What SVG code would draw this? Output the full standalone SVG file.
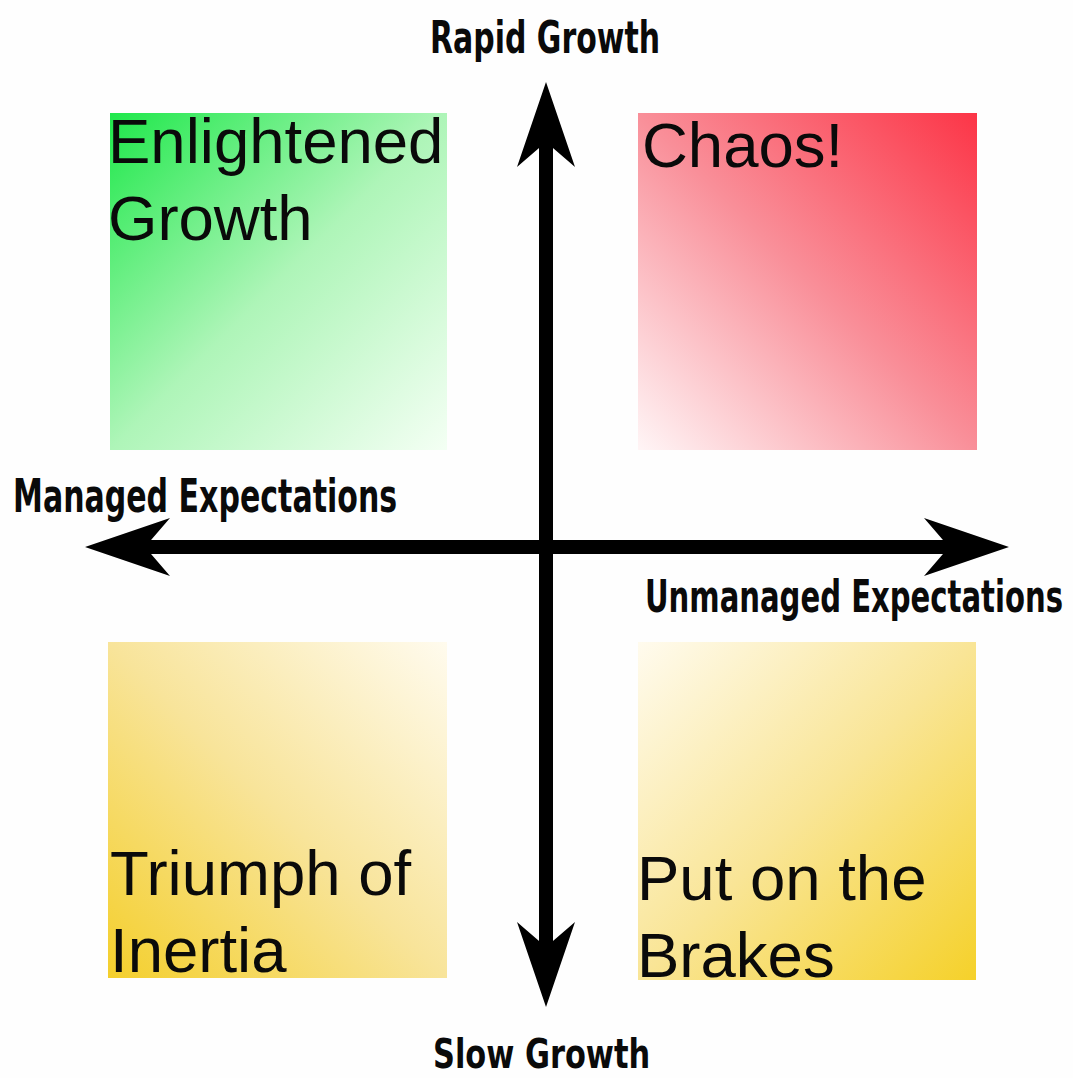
<svg xmlns="http://www.w3.org/2000/svg" width="1073" height="1078" viewBox="0 0 1073 1078">
  <style>
    .quad { font-family: "Liberation Sans", Arial, sans-serif; font-size: 63.5px; fill: #0a0a0a; }
    .axis { font-family: "DejaVu Sans Condensed", "DejaVu Sans", sans-serif; font-weight: bold; fill: #0a0a0a; }
    .shaft { stroke: #000; stroke-width: 14; fill: none; marker-start: url(#head); marker-end: url(#head); }
  </style>
  <defs>
    <linearGradient id="gGreen" x1="0" y1="0" x2="1" y2="1">
      <stop offset="0" stop-color="#1fe84b"/>
      <stop offset="0.5" stop-color="#aef5b8"/>
      <stop offset="1" stop-color="#f4fff4"/>
    </linearGradient>
    <linearGradient id="gRed" x1="1" y1="0" x2="0" y2="1">
      <stop offset="0" stop-color="#fc3547"/>
      <stop offset="0.5" stop-color="#f98f99"/>
      <stop offset="1" stop-color="#fff5f6"/>
    </linearGradient>
    <linearGradient id="gYellowBL" x1="0" y1="1" x2="1" y2="0">
      <stop offset="0" stop-color="#f4cf2c"/>
      <stop offset="0.5" stop-color="#f8e49a"/>
      <stop offset="1" stop-color="#fffbee"/>
    </linearGradient>
    <linearGradient id="gYellowBR" x1="1" y1="1" x2="0" y2="0">
      <stop offset="0" stop-color="#f5d12a"/>
      <stop offset="0.5" stop-color="#f9e596"/>
      <stop offset="1" stop-color="#fffbee"/>
    </linearGradient>
    <!-- notched arrowhead; reference point sits at the notch -->
    <marker id="head" markerUnits="userSpaceOnUse" markerWidth="200" markerHeight="200"
            refX="0" refY="0" orient="auto-start-reverse" overflow="visible">
      <path d="M60,0 L-25,-29 L0,0 L-25,29 Z" fill="#000"/>
    </marker>
  </defs>

  <rect width="1073" height="1078" fill="#fefefe"/>

  <g id="enlightened-growth">
    <rect x="110" y="113" width="337" height="337" fill="url(#gGreen)"/>
    <text class="quad" x="108" y="163">Enlightened</text>
    <text class="quad" x="108" y="240">Growth</text>
  </g>

  <g id="chaos">
    <rect x="638" y="113" width="339" height="337" fill="url(#gRed)"/>
    <text class="quad" x="642" y="167">Chaos!</text>
  </g>

  <g id="triumph-of-inertia">
    <rect x="108" y="642" width="339" height="336" fill="url(#gYellowBL)"/>
    <text class="quad" x="110" y="895">Triumph of</text>
    <text class="quad" x="110" y="972">Inertia</text>
  </g>

  <g id="put-on-the-brakes">
    <rect x="638" y="642" width="338" height="338" fill="url(#gYellowBR)"/>
    <text class="quad" x="637" y="900">Put on the</text>
    <text class="quad" x="637" y="977">Brakes</text>
  </g>

  <g id="connectors">
    <line class="shaft" x1="546" y1="142" x2="546" y2="947"/>
    <line class="shaft" x1="949" y1="547" x2="145" y2="547"/>
  </g>

  <!-- axis labels: condensed bold, squeezed horizontally -->
  <g id="axis-labels">
    <text class="axis" font-size="45" transform="translate(430 53) scale(0.74 1)">Rapid Growth</text>
    <text class="axis" font-size="41" transform="translate(433 1068) scale(0.825 1)">Slow Growth</text>
    <text class="axis" font-size="47" transform="translate(13 512) scale(0.71 1)">Managed Expectations</text>
    <text class="axis" font-size="44" transform="translate(645 612) scale(0.735 1)">Unmanaged Expectations</text>
  </g>
</svg>
